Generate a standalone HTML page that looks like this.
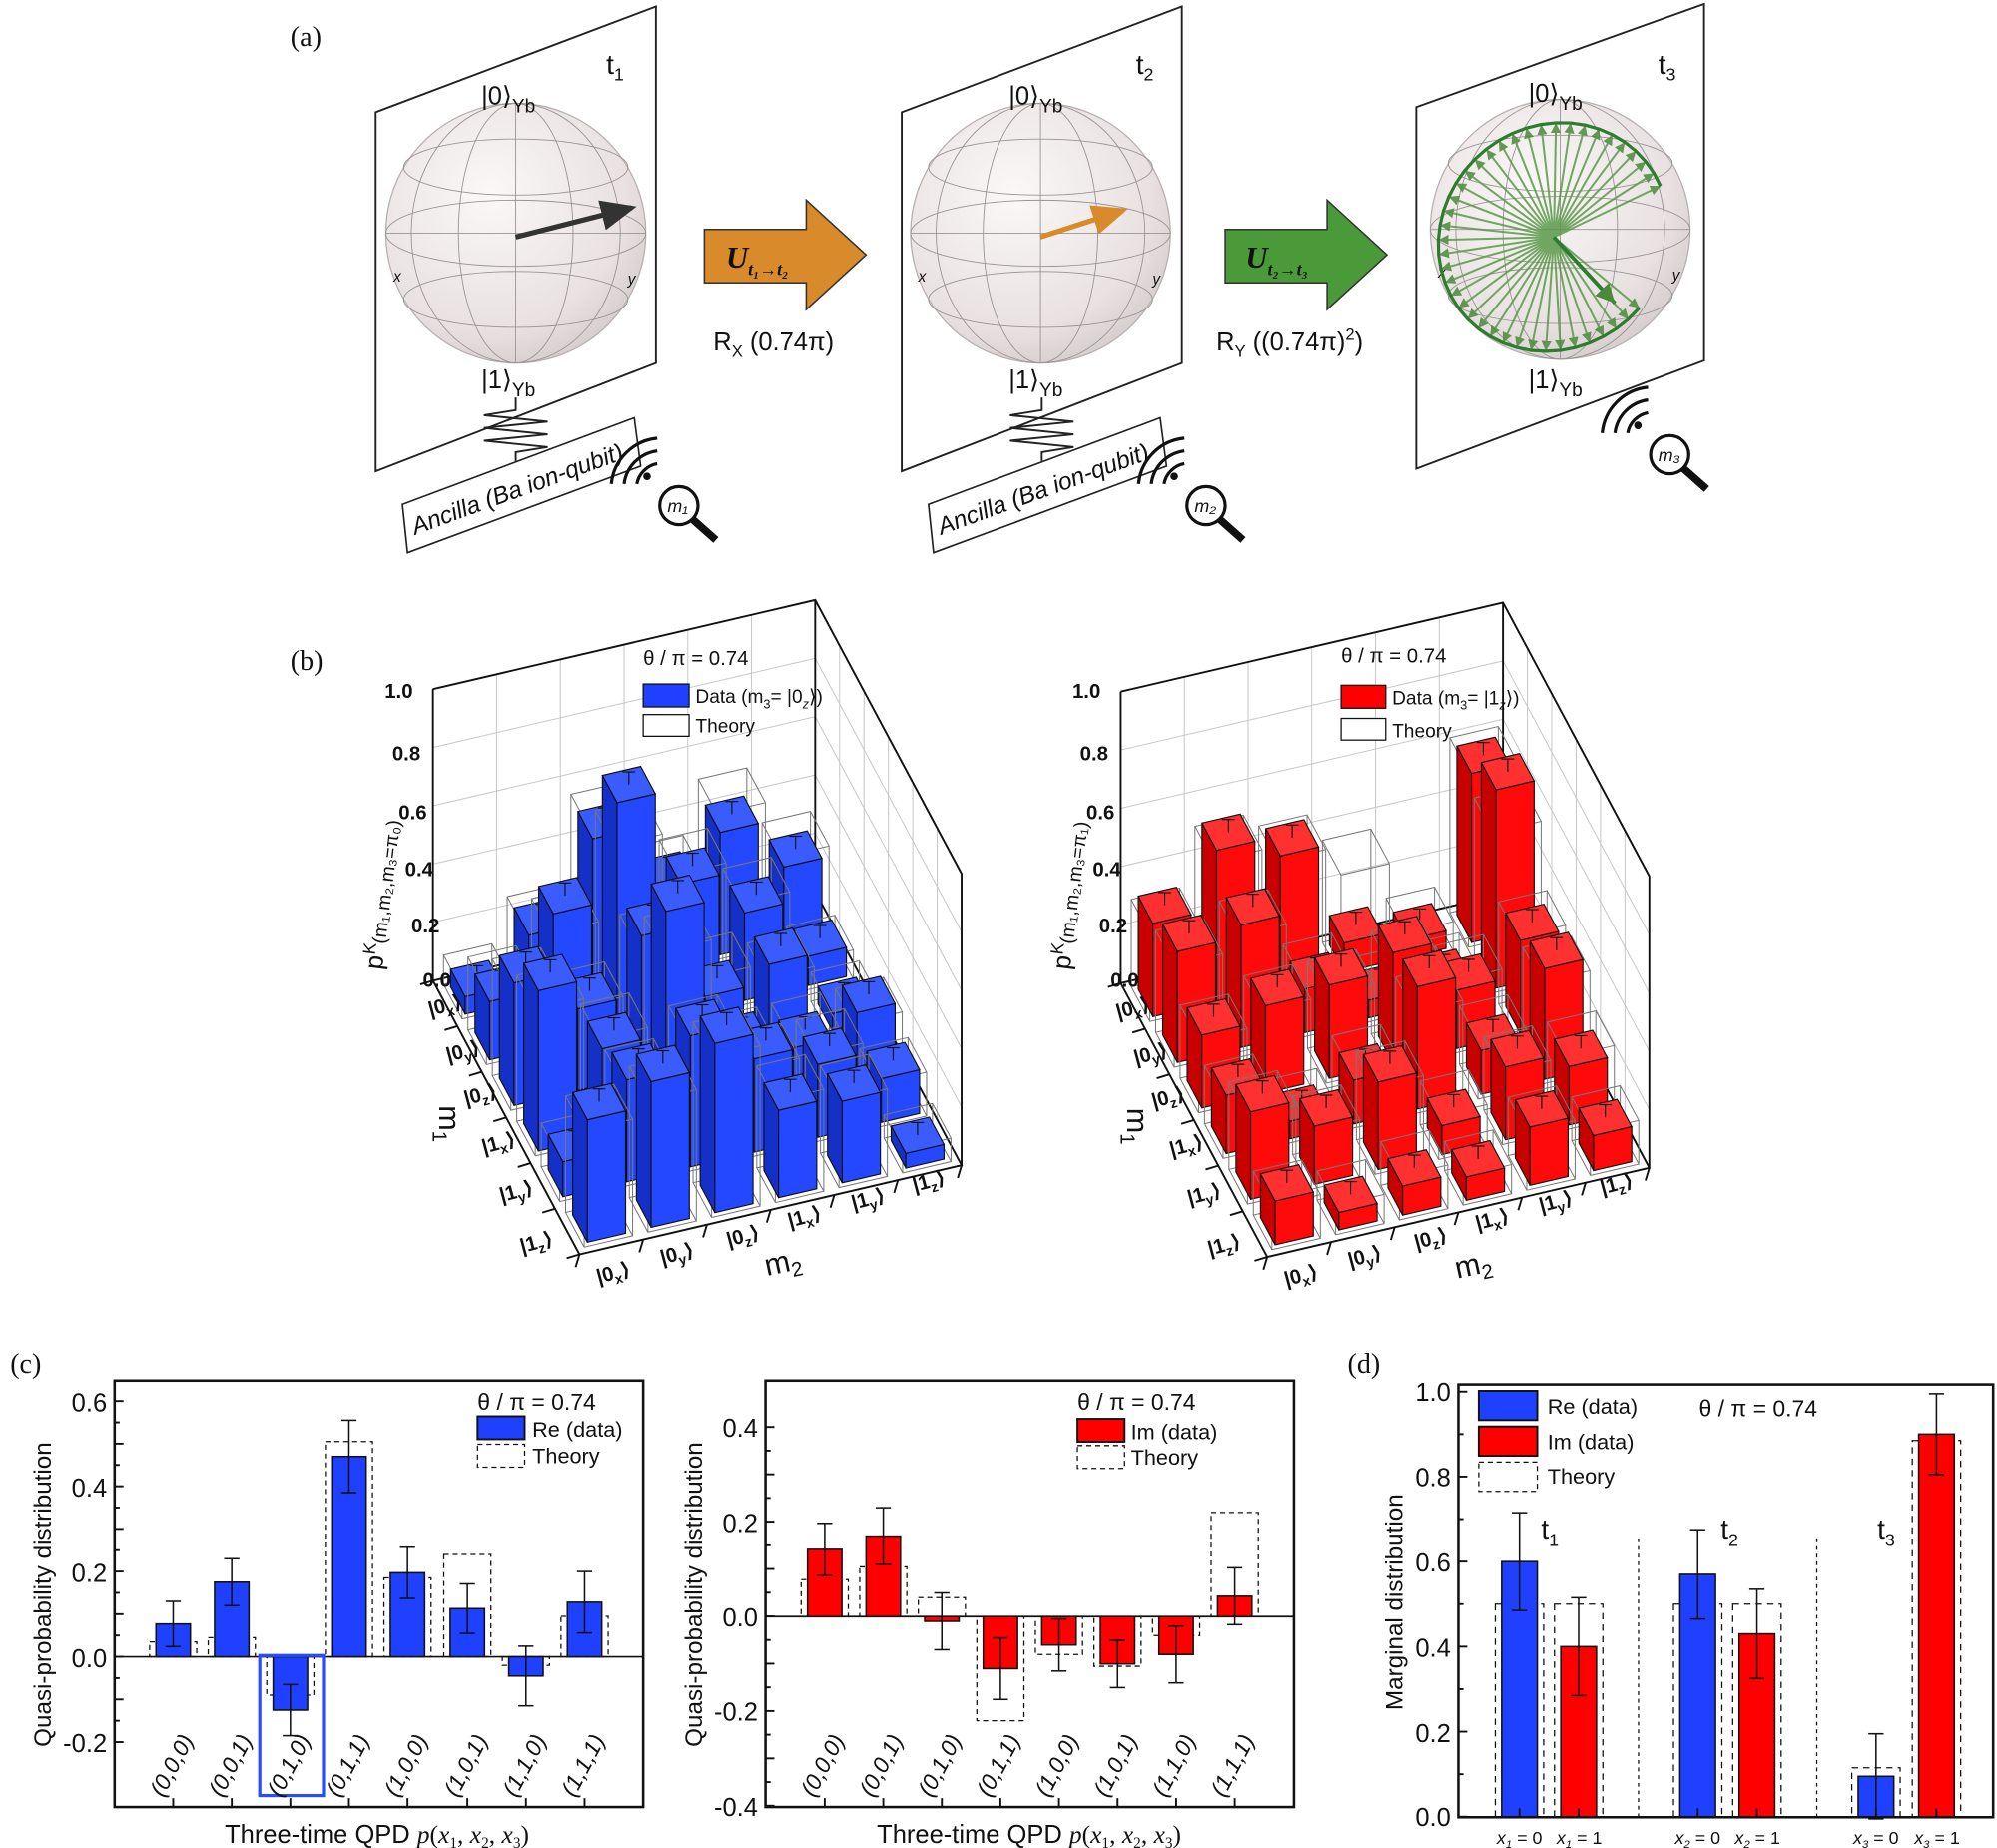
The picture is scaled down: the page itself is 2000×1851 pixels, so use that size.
<!DOCTYPE html>
<html><head><meta charset="utf-8">
<style>
html,body{margin:0;padding:0;background:#fff;}
svg{display:block;}
text{font-family:"Liberation Sans","DejaVu Sans",sans-serif;fill:#111;}
.n{font-family:"Liberation Sans Narrow","Liberation Sans",sans-serif;}
.s{font-family:"Liberation Serif","DejaVu Serif",serif;}
</style></head>
<body>
<svg id="fig" width="2000" height="1851" viewBox="0 0 1568 1451" xmlns="http://www.w3.org/2000/svg">
<defs>
<radialGradient id="sph" cx="0.4" cy="0.35" r="0.75">
<stop offset="0" stop-color="#fbf8f8"/><stop offset="0.7" stop-color="#e9e1e1"/><stop offset="1" stop-color="#cfc6c6"/>
</radialGradient>
<marker id="ah" markerWidth="8" markerHeight="8" refX="6" refY="3" orient="auto"><path d="M0,0 L7,3 L0,6 z" fill="#333"/></marker>
<marker id="ao" markerWidth="8" markerHeight="8" refX="6" refY="3" orient="auto"><path d="M0,0 L7,3 L0,6 z" fill="#d98a2a"/></marker>
<marker id="ag" markerWidth="6" markerHeight="6" refX="5" refY="2.5" orient="auto"><path d="M0,0 L5,2.5 L0,5 z" fill="#4a8a3a"/></marker>
</defs>

<!-- ===== Panel (a) ===== -->
<text x="228" y="36" class="s" font-size="22">(a)</text>
<polygon points="295,88 515,5 515,285 295,370" fill="#fff" stroke="#222" stroke-width="1.5"/>
<polygon points="708,88 928,5 928,285 708,370" fill="#fff" stroke="#222" stroke-width="1.5"/>
<polygon points="1112,84 1338,3 1338,283 1112,368" fill="#fff" stroke="#222" stroke-width="1.5"/>
<g id="spheres"></g>
<text x="476" y="58" font-size="22">t<tspan font-size="14" dy="5">1</tspan></text>
<text x="892" y="58" font-size="22">t<tspan font-size="14" dy="5">2</tspan></text>
<text x="1302" y="58" font-size="22">t<tspan font-size="14" dy="5">3</tspan></text>
<text x="378" y="82" font-size="20">|0⟩<tspan font-size="15" dy="6">Yb</tspan></text>
<text x="378" y="305" font-size="20">|1⟩<tspan font-size="15" dy="6">Yb</tspan></text>
<text x="792" y="82" font-size="20">|0⟩<tspan font-size="15" dy="6">Yb</tspan></text>
<text x="792" y="305" font-size="20">|1⟩<tspan font-size="15" dy="6">Yb</tspan></text>
<text x="1200" y="80" font-size="20">|0⟩<tspan font-size="15" dy="6">Yb</tspan></text>
<text x="1200" y="305" font-size="20">|1⟩<tspan font-size="15" dy="6">Yb</tspan></text>
<polygon points="553,180 633,180 633,157 680,200 633,243 633,222 553,222" fill="#d98a2a" stroke="#333" stroke-width="1.2"/>
<text x="570" y="210" class="s" font-size="24" font-style="italic" font-weight="bold">U<tspan font-size="14" dy="6">t₁→t₂</tspan></text>
<polygon points="962,180 1042,180 1042,157 1089,200 1042,243 1042,222 962,222" fill="#4a9a3a" stroke="#333" stroke-width="1.2"/>
<text x="978" y="210" class="s" font-size="24" font-style="italic" font-weight="bold">U<tspan font-size="14" dy="6">t₂→t₃</tspan></text>
<text x="560" y="275" font-size="20">R<tspan font-size="13" dy="5">X</tspan><tspan dy="-5"> (0.74π)</tspan></text>
<text x="955" y="275" font-size="20">R<tspan font-size="13" dy="5">Y</tspan><tspan dy="-5"> ((0.74π)</tspan><tspan font-size="13" dy="-8">2</tspan><tspan dy="8">)</tspan></text>
<g fill="none" stroke="#222" stroke-width="1.5">
<path d="M405,312 L405,322 L380,326 L430,331 L380,336 L430,341 L380,346 L430,351 L405,355 L405,362"/>
<path d="M818,312 L818,322 L793,326 L843,331 L793,336 L843,341 L793,346 L843,351 L818,355 L818,362"/>
</g>
<polygon points="316,396 498,328 503,366 320,434" fill="#fff" stroke="#222" stroke-width="1.3"/>
<polygon points="729,396 911,328 916,366 733,434" fill="#fff" stroke="#222" stroke-width="1.3"/>
<text x="0" y="0" font-size="19" font-style="italic" transform="translate(326,420) rotate(-20)">Ancilla (Ba ion-qubit)</text>
<text x="0" y="0" font-size="19" font-style="italic" transform="translate(739,420) rotate(-20)">Ancilla (Ba ion-qubit)</text>
<g id="mags"></g>

<!-- ===== Panel (b) ===== -->
<text x="228" y="526" class="s" font-size="22">(b)</text>
<g id="pb"></g>
<g font-size="16" font-weight="bold">
<text x="302" y="548">1.0</text><text x="308" y="597">0.8</text><text x="313" y="643">0.6</text>
<text x="318" y="688">0.4</text><text x="323" y="732">0.2</text><text x="332" y="775">0.0</text>
<text x="842" y="548">1.0</text><text x="848" y="597">0.8</text><text x="853" y="643">0.6</text>
<text x="858" y="688">0.4</text><text x="863" y="732">0.2</text><text x="872" y="775">0.0</text>
</g>
<text font-size="20" transform="translate(300,762) rotate(-83)">p<tspan font-size="14" dy="-7">K</tspan><tspan font-size="15" dy="7">(m₁,m₂,m₃=π₀)</tspan></text>
<text font-size="20" transform="translate(840,762) rotate(-83)">p<tspan font-size="14" dy="-7">K</tspan><tspan font-size="15" dy="7">(m₁,m₂,m₃=π₁)</tspan></text>
<g font-size="16" font-weight="bold">
<text transform="translate(338,798) rotate(-15)">|0<tspan font-size="11" dy="4">x</tspan><tspan dy="-4">⟩</tspan></text>
<text transform="translate(352,834) rotate(-15)">|0<tspan font-size="11" dy="4">y</tspan><tspan dy="-4">⟩</tspan></text>
<text transform="translate(366,868) rotate(-15)">|0<tspan font-size="11" dy="4">z</tspan><tspan dy="-4">⟩</tspan></text>
<text transform="translate(380,906) rotate(-15)">|1<tspan font-size="11" dy="4">x</tspan><tspan dy="-4">⟩</tspan></text>
<text transform="translate(394,944) rotate(-15)">|1<tspan font-size="11" dy="4">y</tspan><tspan dy="-4">⟩</tspan></text>
<text transform="translate(410,984) rotate(-15)">|1<tspan font-size="11" dy="4">z</tspan><tspan dy="-4">⟩</tspan></text>
<text transform="translate(470,1008) rotate(-15)">|0<tspan font-size="11" dy="4">x</tspan><tspan dy="-4">⟩</tspan></text>
<text transform="translate(520,993) rotate(-15)">|0<tspan font-size="11" dy="4">y</tspan><tspan dy="-4">⟩</tspan></text>
<text transform="translate(572,979) rotate(-15)">|0<tspan font-size="11" dy="4">z</tspan><tspan dy="-4">⟩</tspan></text>
<text transform="translate(620,964) rotate(-15)">|1<tspan font-size="11" dy="4">x</tspan><tspan dy="-4">⟩</tspan></text>
<text transform="translate(670,950) rotate(-15)">|1<tspan font-size="11" dy="4">y</tspan><tspan dy="-4">⟩</tspan></text>
<text transform="translate(718,936) rotate(-15)">|1<tspan font-size="11" dy="4">z</tspan><tspan dy="-4">⟩</tspan></text>
<text transform="translate(878,800) rotate(-15)">|0<tspan font-size="11" dy="4">x</tspan><tspan dy="-4">⟩</tspan></text>
<text transform="translate(892,836) rotate(-15)">|0<tspan font-size="11" dy="4">y</tspan><tspan dy="-4">⟩</tspan></text>
<text transform="translate(906,870) rotate(-15)">|0<tspan font-size="11" dy="4">z</tspan><tspan dy="-4">⟩</tspan></text>
<text transform="translate(920,908) rotate(-15)">|1<tspan font-size="11" dy="4">x</tspan><tspan dy="-4">⟩</tspan></text>
<text transform="translate(934,946) rotate(-15)">|1<tspan font-size="11" dy="4">y</tspan><tspan dy="-4">⟩</tspan></text>
<text transform="translate(950,986) rotate(-15)">|1<tspan font-size="11" dy="4">z</tspan><tspan dy="-4">⟩</tspan></text>
<text transform="translate(1010,1010) rotate(-15)">|0<tspan font-size="11" dy="4">x</tspan><tspan dy="-4">⟩</tspan></text>
<text transform="translate(1060,995) rotate(-15)">|0<tspan font-size="11" dy="4">y</tspan><tspan dy="-4">⟩</tspan></text>
<text transform="translate(1112,981) rotate(-15)">|0<tspan font-size="11" dy="4">z</tspan><tspan dy="-4">⟩</tspan></text>
<text transform="translate(1160,966) rotate(-15)">|1<tspan font-size="11" dy="4">x</tspan><tspan dy="-4">⟩</tspan></text>
<text transform="translate(1210,952) rotate(-15)">|1<tspan font-size="11" dy="4">y</tspan><tspan dy="-4">⟩</tspan></text>
<text transform="translate(1258,938) rotate(-15)">|1<tspan font-size="11" dy="4">z</tspan><tspan dy="-4">⟩</tspan></text>
</g>
<text font-size="24" transform="translate(345,868) rotate(90)">m<tspan font-size="16" dy="5">1</tspan></text>
<text font-size="24" transform="translate(885,870) rotate(90)">m<tspan font-size="16" dy="5">1</tspan></text>
<text font-size="24" transform="translate(602,1002) rotate(-12)">m<tspan font-size="16" dy="5">2</tspan></text>
<text font-size="24" transform="translate(1144,1004) rotate(-12)">m<tspan font-size="16" dy="5">2</tspan></text>
<text x="505" y="522" font-size="16">θ / π = 0.74</text>
<rect x="505" y="537" width="36" height="18" fill="#2040ff" stroke="#111"/>
<text x="546" y="552" font-size="15">Data (m<tspan font-size="10" dy="4">3</tspan><tspan dy="-4">= |0</tspan><tspan font-size="10" dy="4" font-style="italic">z</tspan><tspan dy="-4">⟩)</tspan></text>
<rect x="505" y="561" width="36" height="17" fill="#fff" stroke="#111"/>
<text x="546" y="575" font-size="15">Theory</text>
<text x="1053" y="520" font-size="16">θ / π = 0.74</text>
<rect x="1053" y="538" width="35" height="18" fill="#ff0000" stroke="#111"/>
<text x="1093" y="553" font-size="15">Data (m<tspan font-size="10" dy="4">3</tspan><tspan dy="-4">= |1</tspan><tspan font-size="10" dy="4" font-style="italic">z</tspan><tspan dy="-4">⟩)</tspan></text>
<rect x="1053" y="564" width="35" height="17" fill="#fff" stroke="#111"/>
<text x="1093" y="579" font-size="15">Theory</text>

<!-- ===== Panel (c) ===== -->
<text x="8" y="1078" class="s" font-size="22">(c)</text>
<text x="1058" y="1078" class="s" font-size="22">(d)</text>
<g id="pc"></g>
<rect x="204" y="1300" width="50" height="110" fill="none" stroke="#2a4cff" stroke-width="2.5"/>
<rect x="90" y="1084" width="415" height="335" fill="none" stroke="#111" stroke-width="2"/>
<rect x="601" y="1084" width="415" height="335" fill="none" stroke="#111" stroke-width="2"/>
<rect x="1145" y="1087" width="420" height="340" fill="none" stroke="#111" stroke-width="2"/>
<g class="n" font-size="20" text-anchor="end">
<text x="84" y="1108">0.6</text><text x="84" y="1175">0.4</text><text x="84" y="1242">0.2</text><text x="84" y="1309">0.0</text><text x="84" y="1376">-0.2</text>
<text x="595" y="1128">0.4</text><text x="595" y="1203">0.2</text><text x="595" y="1277">0.0</text><text x="595" y="1351">-0.2</text><text x="595" y="1426">-0.4</text>
<text x="1139" y="1100">1.0</text><text x="1139" y="1167">0.8</text><text x="1139" y="1234">0.6</text><text x="1139" y="1301">0.4</text><text x="1139" y="1368">0.2</text><text x="1139" y="1434">0.0</text>
</g>
<text font-size="19" text-anchor="middle" transform="translate(40,1252) rotate(-90)">Quasi-probability distribution</text>
<text font-size="19" text-anchor="middle" transform="translate(551,1252) rotate(-90)">Quasi-probability distribution</text>
<text font-size="19" text-anchor="middle" transform="translate(1101,1258) rotate(-90)">Marginal distribution</text>
<text x="296" y="1447" font-size="20" text-anchor="middle" class="n">Three-time QPD <tspan class="s" font-style="italic">p</tspan><tspan class="s">(</tspan><tspan class="s" font-style="italic">x</tspan><tspan class="s" font-size="12" dy="4">1</tspan><tspan class="s" dy="-4">, </tspan><tspan class="s" font-style="italic">x</tspan><tspan class="s" font-size="12" dy="4">2</tspan><tspan class="s" dy="-4">, </tspan><tspan class="s" font-style="italic">x</tspan><tspan class="s" font-size="12" dy="4">3</tspan><tspan class="s" dy="-4">)</tspan></text>
<text x="808" y="1447" font-size="20" text-anchor="middle" class="n">Three-time QPD <tspan class="s" font-style="italic">p</tspan><tspan class="s">(</tspan><tspan class="s" font-style="italic">x</tspan><tspan class="s" font-size="12" dy="4">1</tspan><tspan class="s" dy="-4">, </tspan><tspan class="s" font-style="italic">x</tspan><tspan class="s" font-size="12" dy="4">2</tspan><tspan class="s" dy="-4">, </tspan><tspan class="s" font-style="italic">x</tspan><tspan class="s" font-size="12" dy="4">3</tspan><tspan class="s" dy="-4">)</tspan></text>
<g class="n" font-size="18" font-style="italic">
<text transform="translate(128,1412) rotate(-62)">(0,0,0)</text>
<text transform="translate(174,1412) rotate(-62)">(0,0,1)</text>
<text transform="translate(220,1412) rotate(-62)">(0,1,0)</text>
<text transform="translate(266,1412) rotate(-62)">(0,1,1)</text>
<text transform="translate(312,1412) rotate(-62)">(1,0,0)</text>
<text transform="translate(359,1412) rotate(-62)">(1,0,1)</text>
<text transform="translate(405,1412) rotate(-62)">(1,1,0)</text>
<text transform="translate(451,1412) rotate(-62)">(1,1,1)</text>
<text transform="translate(639,1412) rotate(-62)">(0,0,0)</text>
<text transform="translate(685,1412) rotate(-62)">(0,0,1)</text>
<text transform="translate(731,1412) rotate(-62)">(0,1,0)</text>
<text transform="translate(777,1412) rotate(-62)">(0,1,1)</text>
<text transform="translate(823,1412) rotate(-62)">(1,0,0)</text>
<text transform="translate(869,1412) rotate(-62)">(1,0,1)</text>
<text transform="translate(915,1412) rotate(-62)">(1,1,0)</text>
<text transform="translate(961,1412) rotate(-62)">(1,1,1)</text>
</g>
<text x="375" y="1107" font-size="18" class="n">θ / π = 0.74</text>
<rect x="375" y="1112" width="37" height="18" fill="#2040ff" stroke="#111" stroke-width="1.5"/>
<text x="418" y="1128" font-size="17" class="n">Re (data)</text>
<rect x="375" y="1134" width="37" height="18" fill="none" stroke="#111" stroke-dasharray="4,3"/>
<text x="418" y="1149" font-size="17" class="n">Theory</text>
<text x="846" y="1107" font-size="18" class="n">θ / π = 0.74</text>
<rect x="846" y="1114" width="37" height="18" fill="#ff0000" stroke="#111" stroke-width="1.5"/>
<text x="888" y="1130" font-size="17" class="n">Im (data)</text>
<rect x="846" y="1135" width="37" height="18" fill="none" stroke="#111" stroke-dasharray="4,3"/>
<text x="888" y="1150" font-size="17" class="n">Theory</text>
<rect x="1161" y="1092" width="46" height="23" fill="#2040ff" stroke="#111" stroke-width="1.5"/>
<text x="1215" y="1110" font-size="17" class="n">Re (data)</text>
<rect x="1161" y="1120" width="46" height="23" fill="#ff0000" stroke="#111" stroke-width="1.5"/>
<text x="1215" y="1138" font-size="17" class="n">Im (data)</text>
<rect x="1161" y="1148" width="46" height="23" fill="none" stroke="#111" stroke-dasharray="4,3"/>
<text x="1215" y="1165" font-size="17" class="n">Theory</text>
<text x="1334" y="1112" font-size="18" class="n">θ / π = 0.74</text>
<g stroke="#111" stroke-dasharray="3,3" stroke-width="1">
<line x1="1286.5" y1="1208" x2="1286.5" y2="1426"/><line x1="1426.5" y1="1208" x2="1426.5" y2="1426"/>
</g>
<text x="1210" y="1208" font-size="22" class="n">t<tspan font-size="14" dy="6">1</tspan></text>
<text x="1351" y="1208" font-size="22" class="n">t<tspan font-size="14" dy="6">2</tspan></text>
<text x="1474" y="1208" font-size="22" class="n">t<tspan font-size="14" dy="6">3</tspan></text>
<g class="s" font-size="14" font-style="italic" text-anchor="middle">
<text x="1193" y="1448">x<tspan font-size="9" dy="3">1</tspan><tspan dy="-3" font-style="normal"> = 0</tspan></text>
<text x="1240" y="1448">x<tspan font-size="9" dy="3">1</tspan><tspan dy="-3" font-style="normal"> = 1</tspan></text>
<text x="1333" y="1448">x<tspan font-size="9" dy="3">2</tspan><tspan dy="-3" font-style="normal"> = 0</tspan></text>
<text x="1380" y="1448">x<tspan font-size="9" dy="3">2</tspan><tspan dy="-3" font-style="normal"> = 1</tspan></text>
<text x="1473" y="1448">x<tspan font-size="9" dy="3">3</tspan><tspan dy="-3" font-style="normal"> = 0</tspan></text>
<text x="1521" y="1448">x<tspan font-size="9" dy="3">3</tspan><tspan dy="-3" font-style="normal"> = 1</tspan></text>
</g>
</svg>
<script>
(function(){
var NS="http://www.w3.org/2000/svg";
function el(parent,tag,attrs){var e=document.createElementNS(NS,tag);for(var k in attrs)e.setAttribute(k,attrs[k]);parent.appendChild(e);return e;}
function pts(a){return a.map(function(p){return p[0].toFixed(1)+","+p[1].toFixed(1);}).join(" ");}

var sg=document.getElementById("spheres");
function sphere(cx,cy){
  el(sg,"circle",{cx:cx,cy:cy,r:102,fill:"url(#sph)",stroke:"#b8b0b0","stroke-width":1});
  var g=el(sg,"g",{fill:"none",stroke:"#9a9494","stroke-width":0.7});
  el(g,"ellipse",{cx:cx,cy:cy,rx:102,ry:26});
  el(g,"ellipse",{cx:cx,cy:cy-52,rx:88,ry:22});
  el(g,"ellipse",{cx:cx,cy:cy+52,rx:88,ry:22});
  el(g,"ellipse",{cx:cx,cy:cy,rx:45,ry:102});
  el(g,"ellipse",{cx:cx,cy:cy,rx:82,ry:102});
  el(g,"line",{x1:cx,y1:cy-102,x2:cx,y2:cy+102});
  el(g,"line",{x1:cx-102,y1:cy,x2:cx+102,y2:cy});
  var t=el(sg,"text",{x:cx-96,y:cy+38,"font-size":12,"font-style":"italic"});t.textContent="x";
  t=el(sg,"text",{x:cx+88,y:cy+40,"font-size":12,"font-style":"italic"});t.textContent="y";
}
sphere(405,183);sphere(817,183);sphere(1225,180);
el(sg,"line",{x1:405,y1:186,x2:496,y2:163,stroke:"#333","stroke-width":4,"marker-end":"url(#ah)"});
el(sg,"line",{x1:817,y1:186,x2:882,y2:165,stroke:"#d98a2a","stroke-width":4,"marker-end":"url(#ao)"});
var cx=1220,cy=186,gg=el(sg,"g",{stroke:"#5a9a4a","stroke-width":1.6,opacity:0.85});
var arc=[];
for(var k=0;k<=40;k++){
  var a=(15+k*(295/40))*Math.PI/180;
  var px=cx+90*Math.cos(a)-12*Math.sin(a), py=cy-88*Math.sin(a)-18*Math.cos(a);
  arc.push([px,py]);
  el(gg,"line",{x1:cx,y1:cy,x2:px,y2:py,"marker-end":"url(#ag)"});
}
var d="M"+arc.map(function(p){return p[0].toFixed(1)+","+p[1].toFixed(1);}).join(" L");
el(sg,"path",{d:d,fill:"none",stroke:"#2e7d2e","stroke-width":2.5});
el(sg,"line",{x1:cx,y1:cy,x2:1268,y2:238,stroke:"#2e7d2e","stroke-width":3,"marker-end":"url(#ag)"});

var mg=document.getElementById("mags");
function mag(x,y,lab){
  var g=el(mg,"g",{fill:"none",stroke:"#111","stroke-width":2.5});
  el(g,"path",{d:"M"+(x-18)+","+(y-2)+" A20,20 0 0 1 "+(x-2)+","+(y-18)});
  el(g,"path",{d:"M"+(x-28)+","+(y-2)+" A30,30 0 0 1 "+(x-2)+","+(y-28)});
  el(g,"path",{d:"M"+(x-38)+","+(y-2)+" A40,40 0 0 1 "+(x-2)+","+(y-38)});
  el(mg,"circle",{cx:x-10,cy:y-8,r:3,fill:"#111"});
  el(g,"circle",{cx:x+15,cy:y+15,r:15,fill:"#fff"});
  el(g,"line",{x1:x+26,y1:y+26,x2:x+44,y2:y+42,"stroke-width":6});
  var t=el(mg,"text",{x:x+6,y:y+20,"font-size":14,"font-style":"italic","font-family":"Liberation Serif,serif"});t.textContent=lab;
}
mag(518,382,"m₁");mag(932,382,"m₂");mag(1296,342,"m₃");

var pb=document.getElementById("pb");
function chart3d(ox,oy,H,data,theo,cols){
  var A=[340+ox,770+oy],B=[455+ox,985+oy],D=[640+ox,700+oy],C=[B[0]+D[0]-A[0],B[1]+D[1]-A[1]];
  var u=[(B[0]-A[0])/6,(B[1]-A[1])/6],v=[(D[0]-A[0])/6,(D[1]-A[1])/6];
  function up(p,h){return [p[0],p[1]-h*H];}
  var gl=el(pb,"g",{stroke:"#c8c8c8","stroke-width":0.8});
  for(var k=1;k<6;k++){
    var p=[A[0]+k*v[0],A[1]+k*v[1]];el(gl,"line",{x1:p[0],y1:p[1],x2:p[0],y2:p[1]-H});
    var q=[D[0]+k*u[0],D[1]+k*u[1]];el(gl,"line",{x1:q[0],y1:q[1],x2:q[0],y2:q[1]-H});
  }
  for(var h=0.2;h<1.01;h+=0.2){
    el(gl,"line",{x1:A[0],y1:A[1]-h*H,x2:D[0],y2:D[1]-h*H});
    el(gl,"line",{x1:D[0],y1:D[1]-h*H,x2:C[0],y2:C[1]-h*H});
  }
  var fr=el(pb,"g",{stroke:"#111","stroke-width":1.5,fill:"none"});
  el(fr,"polyline",{points:pts([up(A,1),A,B,C,D,A])});
  el(fr,"polyline",{points:pts([up(A,1),up(D,1),up(C,1),C])});
  el(fr,"line",{x1:D[0],y1:D[1],x2:D[0],y2:D[1]-H});
  for(var k=0;k<=6;k++){var p=[A[0]+k*u[0],A[1]+k*u[1]];el(fr,"line",{x1:p[0],y1:p[1],x2:p[0]-10,y2:p[1]+3});
    var q=[B[0]+k*v[0],B[1]+k*v[1]];el(fr,"line",{x1:q[0],y1:q[1],x2:q[0]-3,y2:q[1]+10});}
  var items=[];
  for(var i=0;i<6;i++)for(var j=0;j<6;j++){
    var c=[A[0]+(i+.5)*u[0]+(j+.5)*v[0],A[1]+(i+.5)*u[1]+(j+.5)*v[1]];
    items.push({i:i,j:j,c:c});
  }
  items.sort(function(a,b){return a.c[1]-b.c[1];});
  items.forEach(function(it){
    var c=it.c;
    function P(s,t,a,h){return [c[0]+s*a*u[0]+t*a*v[0],c[1]+s*a*u[1]+t*a*v[1]-h*H];}
    var h=data[it.i][it.j],a=0.3,th=theo[it.i][it.j],at=0.38;
    var tg=el(pb,"g",{fill:"none",stroke:"#777","stroke-width":0.8});
    el(tg,"polygon",{points:pts([P(-1,-1,at,th),P(1,-1,at,th),P(1,1,at,th),P(-1,1,at,th)])});
    el(tg,"polygon",{points:pts([P(-1,-1,at,0),P(1,-1,at,0),P(1,1,at,0),P(-1,1,at,0)])});
    [[-1,-1],[1,-1],[1,1],[-1,1]].forEach(function(s){var b=P(s[0],s[1],at,0),t=P(s[0],s[1],at,th);el(tg,"line",{x1:b[0],y1:b[1],x2:t[0],y2:t[1]});});
    var g=el(pb,"g",{stroke:"#111","stroke-width":0.9});
    el(g,"polygon",{points:pts([P(-1,-1,a,0),P(1,-1,a,0),P(1,-1,a,h),P(-1,-1,a,h)]),fill:cols[1]});
    el(g,"polygon",{points:pts([P(1,-1,a,0),P(1,1,a,0),P(1,1,a,h),P(1,-1,a,h)]),fill:cols[0]});
    el(g,"polygon",{points:pts([P(-1,-1,a,h),P(1,-1,a,h),P(1,1,a,h),P(-1,1,a,h)]),fill:cols[2]});
    var tp=P(0,0,a,h);
    el(g,"line",{x1:tp[0],y1:tp[1],x2:tp[0],y2:tp[1]-10});
    el(g,"line",{x1:tp[0]-5,y1:tp[1]-10,x2:tp[0]+5,y2:tp[1]-10});
  });
}
var L=[[0.06,0.22,0.5,0.28,0.42,0.25],
       [0.2,0.45,0.78,0.45,0.3,0.1],
       [0.42,0.28,0.48,0.22,0.28,0.06],
       [0.55,0.3,0.72,0.2,0.15,0.22],
       [0.12,0.35,0.45,0.32,0.25,0.15],
       [0.42,0.5,0.58,0.3,0.28,0.05]];
var LT=[[0.1,0.25,0.55,0.32,0.5,0.3],
       [0.25,0.4,0.65,0.5,0.35,0.1],
       [0.4,0.3,0.45,0.3,0.25,0.1],
       [0.5,0.35,0.6,0.2,0.2,0.2],
       [0.15,0.35,0.45,0.3,0.3,0.15],
       [0.4,0.45,0.55,0.35,0.3,0.08]];
var R=[[0.32,0.52,0.45,0.1,0.06,0.58],
       [0.38,0.42,0.15,0.06,0.06,0.68],
       [0.25,0.3,0.32,0.38,0.2,0.32],
       [0.2,0.06,0.15,0.42,0.15,0.38],
       [0.3,0.2,0.3,0.1,0.25,0.2],
       [0.15,0.06,0.1,0.08,0.2,0.12]];
var RT=[[0.3,0.5,0.45,0.35,0.1,0.6],
       [0.35,0.4,0.2,0.1,0.1,0.55],
       [0.25,0.3,0.3,0.35,0.25,0.35],
       [0.2,0.1,0.2,0.35,0.2,0.35],
       [0.3,0.2,0.3,0.15,0.25,0.25],
       [0.15,0.1,0.15,0.1,0.2,0.15]];
chart3d(0,0,229,L,LT,["#2448ff","#1530c8","#3a5cff"]);
chart3d(540,2,229,R,RT,["#ff0a0a","#c80000","#ff3030"]);

var pc=document.getElementById("pc");
function bars2d(x0,x1,y0,scale,cx,vals,errs,theo,w,tw,fill){
  el(pc,"line",{x1:x0,y1:y0,x2:x1,y2:y0,stroke:"#111","stroke-width":1.3});
  for(var k=0;k<cx.length;k++){
    var x=cx[k],yv=y0-vals[k]*scale,yt=y0-theo[k]*scale;
    el(pc,"rect",{x:x-tw/2,y:Math.min(y0,yt),width:tw,height:Math.abs(yt-y0),fill:"none",stroke:"#111","stroke-width":1,"stroke-dasharray":"4,3"});
    el(pc,"rect",{x:x-w/2,y:Math.min(y0,yv),width:w,height:Math.max(1,Math.abs(yv-y0)),fill:fill,stroke:"#111","stroke-width":1.2});
    var e=errs[k]*scale;
    el(pc,"line",{x1:x,y1:yv-e,x2:x,y2:yv+e,stroke:"#111","stroke-width":1.2});
    el(pc,"line",{x1:x-6,y1:yv-e,x2:x+6,y2:yv-e,stroke:"#111","stroke-width":1.2});
    el(pc,"line",{x1:x-6,y1:yv+e,x2:x+6,y2:yv+e,stroke:"#111","stroke-width":1.2});
  }
}
function ticks(x,yb,yt,step,bottom,xs){
  var g=el(pc,"g",{stroke:"#111","stroke-width":1.5});
  for(var y=yb;y>=yt-0.5;y-=step){el(g,"line",{x1:x,y1:y,x2:x+7,y2:y});}
  for(var y=yb-step/2;y>=yt-0.5;y-=step){el(g,"line",{x1:x,y1:y,x2:x+4,y2:y});}
  xs.forEach(function(xx){el(g,"line",{x1:xx,y1:bottom,x2:xx,y2:bottom-7});});
}
var cL=[136,182,228,274,320,367,413,459];
bars2d(90,505,1301,335,cL,[0.077,0.175,-0.125,0.47,0.197,0.113,-0.045,0.128],[0.053,0.055,0.06,0.085,0.06,0.058,0.07,0.072],[0.035,0.045,-0.09,0.505,0.185,0.24,-0.02,0.095],27,37,"#2040ff");
ticks(90,1368,1100,33.5,1419,cL);
var cR=[647.5,693.5,739.5,785.5,831.5,877.5,923.5,969.5];
bars2d(601,1016,1269.4,372,cR,[0.142,0.17,-0.01,-0.11,-0.06,-0.1,-0.08,0.043],[0.055,0.06,0.06,0.065,0.055,0.05,0.06,0.06],[0.078,0.105,0.04,-0.22,-0.08,-0.105,-0.04,0.22],27,37,"#ff0000");
ticks(601,1418,1120,37.2,1419,cR);
var cD=[1193,1239.5,1333,1379.5,1473,1520.5];
var vals=[0.6,0.4,0.57,0.43,0.095,0.9],errs=[0.115,0.115,0.105,0.105,0.1,0.095],th=[0.5,0.5,0.5,0.5,0.115,0.885];
for(var k=0;k<6;k++){
  var x=cD[k],y0=1426.6,s=334,f=(k%2==0)?"#2040ff":"#ff0000";
  el(pc,"rect",{x:x-19,y:y0-th[k]*s,width:38,height:th[k]*s,fill:"none",stroke:"#111","stroke-dasharray":"5,4"});
  el(pc,"rect",{x:x-14,y:y0-vals[k]*s,width:28,height:vals[k]*s,fill:f,stroke:"#111","stroke-width":1.2});
  var yv=y0-vals[k]*s,e=errs[k]*s;
  el(pc,"line",{x1:x,y1:yv-e,x2:x,y2:yv+e,stroke:"#111","stroke-width":1.2});
  el(pc,"line",{x1:x-6,y1:yv-e,x2:x+6,y2:yv-e,stroke:"#111","stroke-width":1.2});
  el(pc,"line",{x1:x-6,y1:yv+e,x2:x+6,y2:yv+e,stroke:"#111","stroke-width":1.2});
}
ticks(1145,1426.6,1092,66.8,1427,cD);
})();
</script>
</body></html>
